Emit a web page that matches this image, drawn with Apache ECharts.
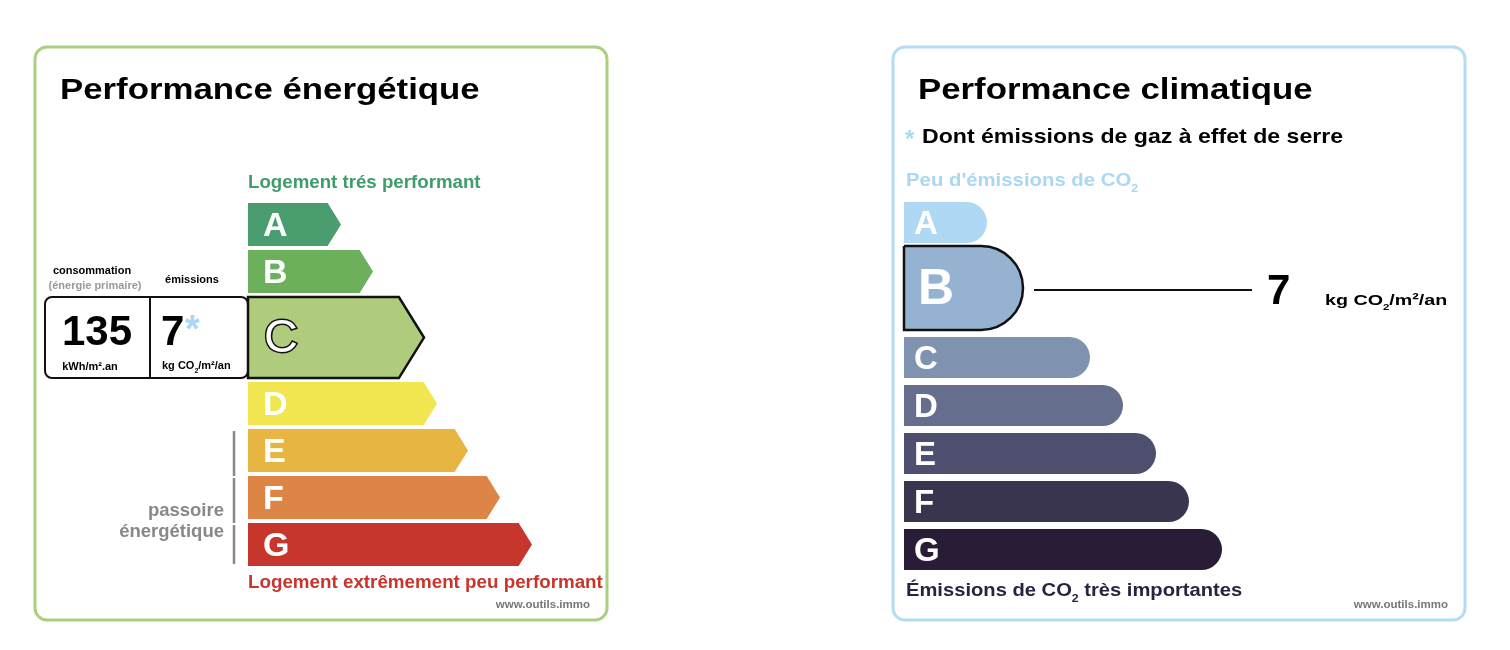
<!DOCTYPE html>
<html lang="fr">
<head>
<meta charset="utf-8">
<title>DPE</title>
<script src="https://cdn.jsdelivr.net/npm/echarts@6/dist/echarts.min.js"></script>
<style>
html, body { margin: 0; background: #fff; }
#main { width: 1510px; height: 650px; }
</style>
</head>
<body>
<div id="main"></div>
<script type="text/javascript">
var classes = ['A', 'B', 'C', 'D', 'E', 'F', 'G'];
var energyLength = [93, 125, 176, 189, 220, 252, 284];
var climateLength = [83, 119, 186, 219, 252, 285, 318];
var energyClass = 'C';
var climateClass = 'B';
var consumption = 135;
var emissions = 7;

var energyColors = ['#4a9d6f', '#6cb05c', '#afcc7d', '#f1e550', '#e7b642', '#dd8546', '#c7362d'];
var climateColors = ['#aed8f3', '#95b3d0', '#7f93b0', '#656f8d', '#4e4f6e', '#39354f', '#281c36'];

var FONT = '"Liberation Sans", Arial, Helvetica, sans-serif';
var E_EXTRA = 0.81;   // place en plus pour la classe retenue (énergie)
var C_EXTRA = 0.8125; // idem climat

function slotTops(sel, extra) {
    var k = classes.indexOf(sel);
    return classes.map(function (c, i) { return i + (i > k ? extra : 0); });
}
var energySlots = slotTops(energyClass, E_EXTRA);
var climateSlots = slotTops(climateClass, C_EXTRA);

function co2Rich(size, color) {
    return {
        t: { fontSize: size, fontWeight: 'bold', fontFamily: FONT, fill: color, lineHeight: size + 3, verticalAlign: 'top' },
        s: { fontSize: Math.round(size * 0.6), fontWeight: 'bold', fontFamily: FONT, fill: color, lineHeight: Math.round(size * 0.7), verticalAlign: 'top', padding: [Math.round(size * 0.62), 0, 0, 0] }
    };
}

// texte étiré horizontalement (la police d'origine est plus large)
function wideText(x, y, sx, style) {
    style.x = 0;
    style.y = 0;
    if (!style.textVerticalAlign) style.textVerticalAlign = 'middle';
    return { type: 'text', x: x, y: y, scaleX: sx, scaleY: 1, style: style };
}

function renderEnergy(params, api) {
    var i = api.value(2);
    var sel = classes[i] === energyClass;
    var s = api.value(1);
    var p0 = api.coord([0, s]);
    var x0 = p0[0], y0 = p0[1];
    var yb = api.coord([0, s + (sel ? 1 + E_EXTRA : 1)])[1] - 4;
    var xt = api.coord([api.value(0), s])[0];
    var h = yb - y0, d = h * 0.31, ym = y0 + h / 2;
    var children = [];
    if (sel) {
        children.push({ type: 'rect', shape: { x: 45, y: y0, width: x0 - 45, height: h, r: 7 },
            style: { fill: '#fff', stroke: '#111', lineWidth: 2 } });
        children.push({ type: 'line', shape: { x1: 150, y1: y0, x2: 150, y2: yb },
            style: { stroke: '#111', lineWidth: 2 } });
        children.push({ type: 'text', style: { text: String(consumption), x: 97, y: y0 + 36,
            font: 'bold 42px ' + FONT, fill: '#000', textAlign: 'center', textVerticalAlign: 'middle' } });
        children.push({ type: 'text', style: { text: 'kWh/m².an', x: 90, y: yb - 11,
            font: 'bold 11px ' + FONT, fill: '#000', textAlign: 'center', textVerticalAlign: 'middle' } });
        children.push({ type: 'text', style: { text: String(emissions), x: 161, y: y0 + 36,
            font: 'bold 42px ' + FONT, fill: '#000', textAlign: 'left', textVerticalAlign: 'middle' } });
        children.push({ type: 'text', style: { text: '*', x: 185, y: y0 + 35,
            font: 'bold 38px ' + FONT, fill: '#a9d8f5', textAlign: 'left', textVerticalAlign: 'middle' } });
        children.push({ type: 'text', style: { text: '{t|kg CO}{s|2}{t|/m²/an}', rich: co2Rich(11, '#000'),
            x: 162, y: yb - 11, textAlign: 'left', textVerticalAlign: 'middle' } });
        children.push({ type: 'text', style: { text: 'consommation', x: 92, y: y0 - 26,
            font: 'bold 11px ' + FONT, fill: '#000', textAlign: 'center', textVerticalAlign: 'middle' } });
        children.push({ type: 'text', style: { text: '(énergie primaire)', x: 95, y: y0 - 11,
            font: 'bold 11px ' + FONT, fill: '#999', textAlign: 'center', textVerticalAlign: 'middle' } });
        children.push({ type: 'text', style: { text: 'émissions', x: 192, y: y0 - 17,
            font: 'bold 11px ' + FONT, fill: '#000', textAlign: 'center', textVerticalAlign: 'middle' } });
    }
    children.push({ type: 'polygon',
        shape: { points: [[x0, y0], [xt - d, y0], [xt, ym], [xt - d, yb], [x0, yb]] },
        style: { fill: energyColors[i], stroke: sel ? '#111' : null, lineWidth: sel ? 2.5 : 0 } });
    children.push({ type: 'text', style: { text: classes[i], x: x0 + (sel ? 16 : 15), y: ym + 2,
        font: (sel ? '47px ' : 'bold 34px ') + FONT, fill: '#fff',
        stroke: sel ? '#111' : null, lineWidth: sel ? 3 : 0,
        textAlign: 'left', textVerticalAlign: 'middle' } });
    // passoire énergétique : classes E, F, G
    if (i >= 4) {
        children.push({ type: 'line', shape: { x1: x0 - 14, y1: y0 + 2, x2: x0 - 14, y2: i === 6 ? yb - 2 : yb + 4 },
            style: { stroke: '#888', lineWidth: 2.5 } });
    }
    if (i === 5) {
        children.push({ type: 'text', style: { text: 'passoire\nénergétique', x: x0 - 24, y: yb + 2,
            font: 'bold 18.5px ' + FONT, fill: '#888', lineHeight: 21, textAlign: 'right', textVerticalAlign: 'middle' } });
    }
    return { type: 'group', children: children };
}

function renderClimate(params, api) {
    var i = api.value(2);
    var sel = classes[i] === climateClass;
    var s = api.value(1);
    var p0 = api.coord([0, s]);
    var x0 = p0[0], y0 = p0[1] - (sel ? 4 : 0);
    var yb = api.coord([0, s + (sel ? 1 + C_EXTRA : 1)])[1] - 7;
    var xt = api.coord([api.value(0), s])[0];
    var h = yb - y0, ym = y0 + h / 2;
    var r = Math.min(h / 2, xt - x0);
    var children = [];
    children.push({ type: 'rect', shape: { x: x0, y: y0, width: xt - x0, height: h, r: [0, r, r, 0] },
        style: { fill: climateColors[i], stroke: sel ? '#111' : null, lineWidth: sel ? 2.5 : 0 } });
    children.push({ type: 'text', style: { text: classes[i], x: x0 + (sel ? 14 : 10), y: ym + 2,
        font: 'bold ' + (sel ? 50 : 33) + 'px ' + FONT, fill: '#fff', textAlign: 'left', textVerticalAlign: 'middle' } });
    if (sel) {
        children.push({ type: 'line', shape: { x1: xt + 11, y1: ym + 2, x2: xt + 229, y2: ym + 2 },
            style: { stroke: '#111', lineWidth: 2 } });
        children.push({ type: 'text', style: { text: String(emissions), x: xt + 244, y: ym + 4,
            font: 'bold 42px ' + FONT, fill: '#000', textAlign: 'left', textVerticalAlign: 'middle' } });
        children.push(wideText(xt + 302, ym + 14, 1.27,
            { text: '{t|kg CO}{s|2}{t|/m²/an}', rich: co2Rich(15.5, '#000'), textAlign: 'left' }));
    }
    return { type: 'group', children: children };
}

var myChart = echarts.init(document.getElementById('main'));

myChart.setOption({
    backgroundColor: '#fff',
    animation: false,
    grid: [
        { left: 248, top: 203, width: 360, height: 47 * (7 + E_EXTRA) },
        { left: 904, top: 202, width: 540, height: 48 * (7 + C_EXTRA) }
    ],
    xAxis: [
        { gridIndex: 0, type: 'value', min: 0, max: 360, show: false },
        { gridIndex: 1, type: 'value', min: 0, max: 540, show: false }
    ],
    yAxis: [
        { gridIndex: 0, type: 'value', min: 0, max: 7 + E_EXTRA, inverse: true, show: false },
        { gridIndex: 1, type: 'value', min: 0, max: 7 + C_EXTRA, inverse: true, show: false }
    ],
    graphic: [
        // cadres
        { type: 'rect', shape: { x: 35, y: 47, width: 572, height: 573, r: 12 },
          style: { fill: 'none', stroke: '#a9d07f', lineWidth: 3 } },
        { type: 'rect', shape: { x: 893, y: 47, width: 572, height: 573, r: 12 },
          style: { fill: 'none', stroke: '#b4dcf4', lineWidth: 3 } },
        // titres
        wideText(60, 91, 1.16, { text: 'Performance énergétique', font: 'bold 30px ' + FONT, fill: '#000' }),
        wideText(918, 91, 1.16, { text: 'Performance climatique', font: 'bold 30px ' + FONT, fill: '#000' }),
        { type: 'text', style: { text: '*', x: 905, y: 140, font: 'bold 24px ' + FONT, fill: '#a9d8f5', textVerticalAlign: 'middle' } },
        wideText(922, 137, 1.10, { text: 'Dont émissions de gaz à effet de serre', font: 'bold 21px ' + FONT, fill: '#000' }),
        // libellés haut / bas d'échelle
        { type: 'text', style: { text: 'Logement trés performant', x: 248, y: 183,
          font: 'bold 18.7px ' + FONT, fill: '#3f9c6b', textVerticalAlign: 'middle' } },
        { type: 'text', style: { text: 'Logement extrêmement peu performant', x: 248, y: 583,
          font: 'bold 18.8px ' + FONT, fill: '#c8352c', textVerticalAlign: 'middle' } },
        wideText(906, 183, 1.13, { text: '{t|Peu d\'émissions de CO}{s|2}', rich: co2Rich(18, '#a9d8f5') }),
        wideText(906, 593, 1.12, { text: '{t|Émissions de CO}{s|2}{t| très importantes}', rich: co2Rich(18, '#2a2340') }),
        // source
        { type: 'text', style: { text: 'www.outils.immo', x: 590, y: 605,
          font: 'bold 11.5px ' + FONT, fill: '#777', textAlign: 'right', textVerticalAlign: 'middle' } },
        { type: 'text', style: { text: 'www.outils.immo', x: 1448, y: 605,
          font: 'bold 11.5px ' + FONT, fill: '#777', textAlign: 'right', textVerticalAlign: 'middle' } }
    ],
    series: [
        {
            name: 'énergie',
            type: 'custom',
            xAxisIndex: 0,
            yAxisIndex: 0,
            renderItem: renderEnergy,
            data: classes.map(function (c, i) { return [energyLength[i], energySlots[i], i]; })
        },
        {
            name: 'climat',
            type: 'custom',
            xAxisIndex: 1,
            yAxisIndex: 1,
            renderItem: renderClimate,
            data: classes.map(function (c, i) { return [climateLength[i], climateSlots[i], i]; })
        }
    ]
});
</script>
</body>
</html>
